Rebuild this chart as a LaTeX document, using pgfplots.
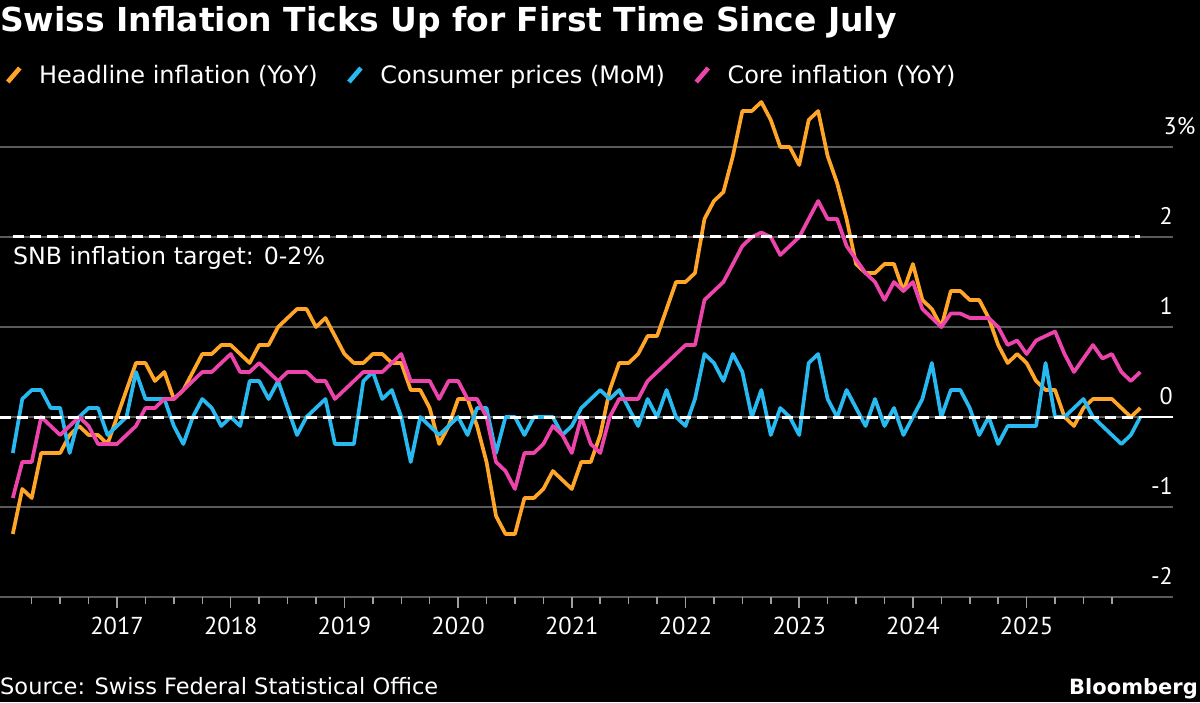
\documentclass[border=0pt]{standalone}
\usepackage{pgfplots}
\pgfplotsset{compat=1.18}
\usepackage{pgfplotstable}
\usepackage{fontspec}
\setmainfont{DejaVu Sans}
\newfontfamily\tickfont{PT Sans}

\definecolor{bbgorange}{RGB}{255,165,40}
\definecolor{bbgblue}{RGB}{40,185,240}
\definecolor{bbgpink}{RGB}{236,68,170}
\definecolor{gridgray}{RGB}{90,90,90}

% n = month index (1 = Jan 2016), H = headline YoY, M = CPI MoM, C = core YoY
\pgfplotstableread{
n H M C
1 -1.3 -0.4 -0.9
2 -0.8 0.2 -0.5
3 -0.9 0.3 -0.5
4 -0.4 0.3 0.0
5 -0.4 0.1 -0.1
6 -0.4 0.1 -0.2
7 -0.2 -0.4 -0.1
8 -0.1 0.0 0.0
9 -0.2 0.1 -0.1
10 -0.2 0.1 -0.3
11 -0.3 -0.2 -0.3
12 0.0 -0.1 -0.3
13 0.3 0.0 -0.2
14 0.6 0.5 -0.1
15 0.6 0.2 0.1
16 0.4 0.2 0.1
17 0.5 0.2 0.2
18 0.2 -0.1 0.2
19 0.3 -0.3 0.3
20 0.5 0.0 0.4
21 0.7 0.2 0.5
22 0.7 0.1 0.5
23 0.8 -0.1 0.6
24 0.8 0.0 0.7
25 0.7 -0.1 0.5
26 0.6 0.4 0.5
27 0.8 0.4 0.6
28 0.8 0.2 0.5
29 1.0 0.4 0.4
30 1.1 0.1 0.5
31 1.2 -0.2 0.5
32 1.2 0.0 0.5
33 1.0 0.1 0.4
34 1.1 0.2 0.4
35 0.9 -0.3 0.2
36 0.7 -0.3 0.3
37 0.6 -0.3 0.4
38 0.6 0.4 0.5
39 0.7 0.5 0.5
40 0.7 0.2 0.5
41 0.6 0.3 0.6
42 0.6 0.0 0.7
43 0.3 -0.5 0.4
44 0.3 0.0 0.4
45 0.1 -0.1 0.4
46 -0.3 -0.2 0.2
47 -0.1 -0.1 0.4
48 0.2 0.0 0.4
49 0.2 -0.2 0.2
50 -0.1 0.1 0.2
51 -0.5 0.1 0.0
52 -1.1 -0.4 -0.5
53 -1.3 0.0 -0.6
54 -1.3 0.0 -0.8
55 -0.9 -0.2 -0.4
56 -0.9 0.0 -0.4
57 -0.8 0.0 -0.3
58 -0.6 0.0 -0.1
59 -0.7 -0.2 -0.2
60 -0.8 -0.1 -0.4
61 -0.5 0.1 0.0
62 -0.5 0.2 -0.3
63 -0.2 0.3 -0.4
64 0.3 0.2 0.0
65 0.6 0.3 0.2
66 0.6 0.1 0.2
67 0.7 -0.1 0.2
68 0.9 0.2 0.4
69 0.9 0.0 0.5
70 1.2 0.3 0.6
71 1.5 0.0 0.7
72 1.5 -0.1 0.8
73 1.6 0.2 0.8
74 2.2 0.7 1.3
75 2.4 0.6 1.4
76 2.5 0.4 1.5
77 2.9 0.7 1.7
78 3.4 0.5 1.9
79 3.4 0.0 2.0
80 3.5 0.3 2.05
81 3.3 -0.2 2.0
82 3.0 0.1 1.8
83 3.0 0.0 1.9
84 2.8 -0.2 2.0
85 3.3 0.6 2.2
86 3.4 0.7 2.4
87 2.9 0.2 2.2
88 2.6 0.0 2.2
89 2.2 0.3 1.9
90 1.7 0.1 1.75
91 1.6 -0.1 1.6
92 1.6 0.2 1.5
93 1.7 -0.1 1.3
94 1.7 0.1 1.5
95 1.4 -0.2 1.4
96 1.7 0.0 1.5
97 1.3 0.2 1.2
98 1.2 0.6 1.1
99 1.0 0.0 1.0
100 1.4 0.3 1.15
101 1.4 0.3 1.15
102 1.3 0.1 1.1
103 1.3 -0.2 1.1
104 1.1 0.0 1.1
105 0.8 -0.3 1.0
106 0.6 -0.1 0.8
107 0.7 -0.1 0.85
108 0.6 -0.1 0.7
109 0.4 -0.1 0.85
110 0.3 0.6 0.9
111 0.3 0.0 0.95
112 0.0 0.0 0.7
113 -0.1 0.1 0.5
114 0.1 0.2 0.65
115 0.2 0.0 0.8
116 0.2 -0.1 0.65
117 0.2 -0.2 0.7
118 0.1 -0.3 0.5
119 0.0 -0.2 0.4
120 0.1 0.0 0.5
}\cpidata

\begin{document}
\begin{tikzpicture}
\fill[black] (0pt,0pt) rectangle (1200pt,702pt);

\node[anchor=base west, inner sep=0pt, text=white,
  font=\bfseries\fontsize{33}{37}\selectfont] at (0pt,670.3pt)
  {Swiss Inflation Ticks Up for First Time Since July};

\begin{axis}[
  at={(0pt,105pt)}, anchor=south west,
  scale only axis, width=1173pt, height=504pt,
  xmin=-0.35, xmax=123.45, ymin=-2, ymax=3.6,
  axis x line*=bottom, axis y line*=right,
  x axis line style={draw=none}, y axis line style={draw=none},
  xtick={12,24,...,108},
  xticklabels={2017,2018,2019,2020,2021,2022,2023,2024,2025},
  minor xtick={3,6,...,117},
  tick align=outside, major tick length=11pt, minor tick length=7pt,
  xtick style={color=gray!75!white, line width=1.5pt},
  ytick={-2,-1,0,1,2,3},
  yticklabels={-2,-1,0,1,2,\makebox[0pt][r]{3\%\kern-23pt}},
  ytick style={draw=none},
  ymajorgrids, major grid style={gridgray, line width=1.6pt},
  xticklabel style={font=\tickfont\fontsize{24.5}{24.5}\selectfont, text=white,
    anchor=base, inner sep=0pt, yshift=-26.3pt},
  yticklabel style={font=\tickfont\fontsize{24}{24}\selectfont, text=white,
    anchor=base east, inner sep=0pt, yshift=12.5pt, xshift=-11pt},
  legend columns=3,
  legend cell align=left,
  legend style={at={(0.0047,1.0357)}, anchor=west, draw=none, fill=none,
    inner sep=0pt, outer sep=0pt, text=white,
    font=\fontsize{24}{28}\selectfont, nodes={inner sep=0pt},
    /tikz/every odd column/.append style={column sep=17pt},
    /tikz/every even column/.append style={column sep=29pt}},
  legend image code/.code={\draw[line width=4.6pt] (0pt,-7pt) -- (12pt,7pt);},
  every axis plot/.append style={line join=round, no markers},
]
\addplot[bbgorange, line width=3.7pt] table[x=n, y=H] {\cpidata};
\addlegendentry{Headline inflation (YoY)}
\addplot[bbgblue, line width=3.7pt] table[x=n, y=M] {\cpidata};
\addlegendentry{Consumer prices (MoM)}
\addplot[bbgpink, line width=3.7pt] table[x=n, y=C] {\cpidata};
\addlegendentry{Core inflation (YoY)}

% SNB target band limits and zero line
\addplot[white, line width=1.6pt, forget plot] coordinates {(120,0) (123.45,0)};
\addplot[white, line width=3pt, dash pattern=on 11pt off 6pt, forget plot]
  coordinates {(1,2) (120,2)};
\addplot[white, line width=3pt, dash pattern=on 11pt off 6pt, forget plot]
  coordinates {(-0.35,0) (120,0)};
\end{axis}

\node[anchor=base west, inner sep=0pt, text=white,
  font=\fontsize{23.7}{28}\selectfont] at (13pt,437pt)
  {SNB inflation target: 0-2\%};
\node[anchor=base west, inner sep=0pt, text=white,
  font=\fontsize{22.5}{27}\selectfont] at (0pt,7.7pt)
  {Source: Swiss Federal Statistical Office};
\node[anchor=base east, inner sep=0pt, text=white,
  font=\bfseries\fontsize{21}{25}\selectfont] at (1198pt,8pt)
  {Bloomberg};

\pgfresetboundingbox
\path[use as bounding box] (0pt,0pt) rectangle (1200pt,702pt);
\end{tikzpicture}
\end{document}
